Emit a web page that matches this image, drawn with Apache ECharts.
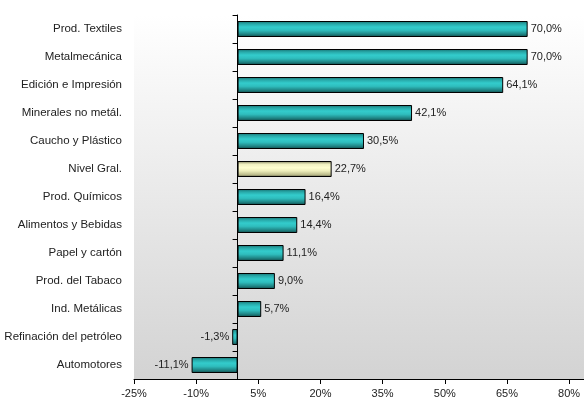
<!DOCTYPE html>
<html>
<head>
<meta charset="utf-8">
<script src="https://cdn.jsdelivr.net/npm/echarts@6/dist/echarts.min.js"></script>
<style>
  html, body { margin: 0; padding: 0; background: #fff; }
  #chart { width: 584px; height: 401px; }
</style>
</head>
<body>
<div id="chart"></div>
<script>
// datos del gráfico
var categorias = ['Prod. Textiles', 'Metalmecánica', 'Edición e Impresión', 'Minerales no metál.',
    'Caucho y Plástico', 'Nivel Gral.', 'Prod. Químicos', 'Alimentos y Bebidas', 'Papel y cartón',
    'Prod. del Tabaco', 'Ind. Metálicas', 'Refinación del petróleo', 'Automotores'];
var valores = [70.0, 70.0, 64.1, 42.1, 30.5, 22.7, 16.4, 14.4, 11.1, 9.0, 5.7, -1.3, -11.1];
var destacado = 'Nivel Gral.';
var marcasX = [-25, -10, 5, 20, 35, 50, 65, 80];

var fuente = 'Liberation Sans, Arial, sans-serif';

var colorTeal = new echarts.graphic.LinearGradient(0, 0, 0, 1, [
    { offset: 0, color: '#176e6e' },
    { offset: 0.18, color: '#27a8a8' },
    { offset: 0.38, color: '#33cccc' },
    { offset: 0.58, color: '#2fbebe' },
    { offset: 0.82, color: '#1f8585' },
    { offset: 1, color: '#104848' }
]);
var colorAmarillo = new echarts.graphic.LinearGradient(0, 0, 0, 1, [
    { offset: 0, color: '#7a7a5c' },
    { offset: 0.2, color: '#f0f0c0' },
    { offset: 0.42, color: '#ffffd0' },
    { offset: 0.62, color: '#eeeebb' },
    { offset: 0.85, color: '#bcbc8c' },
    { offset: 1, color: '#606046' }
]);

var datos = valores.map(function (v, i) {
    return {
        value: v,
        itemStyle: { color: categorias[i] === destacado ? colorAmarillo : colorTeal },
        label: { position: v < 0 ? 'left' : 'right' }
    };
});

var chart = echarts.init(document.getElementById('chart'));

var option = {
    animation: false,
    backgroundColor: '#fff',
    grid: {
        left: 134, right: 0, top: 15, bottom: 22,
        show: true,
        borderWidth: 0,
        backgroundColor: new echarts.graphic.LinearGradient(0, 0, 0, 1, [
            { offset: 0, color: '#ffffff' },
            { offset: 1, color: '#d3d3d3' }
        ])
    },
    xAxis: {
        type: 'value',
        min: -25,
        max: 83.6,
        splitLine: { show: false },
        axisLine: { show: true, onZero: false, lineStyle: { color: '#000', width: 1 } },
        axisTick: { show: true, length: 5, customValues: marcasX, lineStyle: { color: '#000' } },
        axisLabel: {
            customValues: marcasX,
            margin: 9,
            color: '#222',
            fontFamily: fuente,
            fontSize: 11,
            formatter: function (v) { return v + '%'; }
        }
    },
    yAxis: [
        {
            type: 'category',
            data: categorias,
            inverse: true,
            axisLine: { show: true, onZero: true, lineStyle: { color: '#000', width: 1 } },
            axisTick: { show: true, length: 5, lineStyle: { color: '#000' } },
            axisLabel: { show: false }
        },
        {
            type: 'category',
            data: categorias,
            inverse: true,
            position: 'left',
            axisLine: { show: false, onZero: false },
            axisTick: { show: false },
            axisLabel: {
                margin: 12,
                color: '#222',
                fontFamily: fuente,
                fontSize: 11.5
            }
        }
    ],
    series: [
        {
            type: 'bar',
            yAxisIndex: 0,
            barWidth: 16,
            data: datos,
            itemStyle: { borderColor: '#000', borderWidth: 1 },
            label: {
                show: true,
                distance: 3,
                color: '#222',
                fontFamily: fuente,
                fontSize: 11,
                formatter: function (p) { return p.value.toFixed(1).replace('.', ',') + '%'; }
            }
        }
    ]
};

chart.setOption(option);
</script>
</body>
</html>
